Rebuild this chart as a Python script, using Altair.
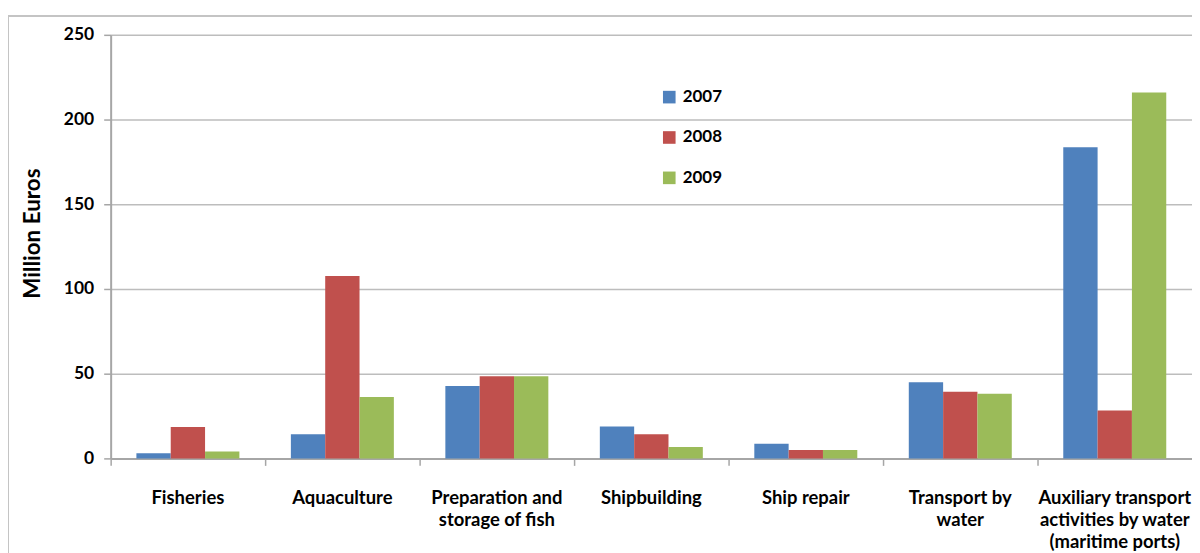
import altair as alt
import pandas as pd

categories = [
    "Fisheries",
    "Aquaculture",
    "Preparation and|storage of fish",
    "Shipbuilding",
    "Ship repair",
    "Transport by|water",
    "Auxiliary transport|activities by water|(maritime ports)",
]
years = ["2007", "2008", "2009"]
v2007 = [3.1, 14.2, 42.8, 18.8, 8.6, 44.9, 183.6]
v2008 = [18.6, 107.6, 48.5, 14.2, 5.0, 39.3, 28.2]
v2009 = [4.0, 36.3, 48.5, 6.7, 5.0, 38.2, 216.0]
colors = ["#4F81BD", "#C0504D", "#9BBB59"]

rows = []
for yr, vals in zip(years, [v2007, v2008, v2009]):
    for c, v in zip(categories, vals):
        rows.append({"sector": c, "year": yr, "value": v})
df = pd.DataFrame(rows)

W, H = 1085, 425
FONT = "Lato"

frame = alt.Chart(pd.DataFrame({"k": [0]})).mark_rect(
    fill="white", fillOpacity=0, stroke="#c4c4c4", strokeWidth=2
).encode(
    x=alt.value(-103), x2=alt.value(W + 50),
    y=alt.value(-19), y2=alt.value(H + 200),
)

bars = alt.Chart(df).mark_bar().encode(
    x=alt.X(
        "sector:N",
        sort=categories,
        scale=alt.Scale(paddingInner=0, paddingOuter=0),
        axis=alt.Axis(
            title=None,
            labelAngle=0,
            labelExpr="split(datum.label, '|')",
            labelFont=FONT,
            labelFontSize=18.5,
            labelFontWeight="bold",
            labelColor="#000000",
            labelLineHeight=22,
            labelBaseline="top",
            labelPadding=23,
            labelLimit=400,
            bandPosition=0,
            ticks=True,
            tickSize=7,
            tickColor="#a6a6a6",
            tickWidth=1.5,
            domainColor="#a6a6a6",
            domainWidth=2,
        ),
    ),
    xOffset=alt.XOffset(
        "year:N",
        sort=years,
        scale=alt.Scale(paddingInner=0, paddingOuter=0.75),
    ),
    y=alt.Y(
        "value:Q",
        scale=alt.Scale(domain=[0, 250], nice=False),
        axis=alt.Axis(
            title="Million Euros",
            values=[0, 50, 100, 150, 200, 250],
            labelFont=FONT,
            labelFontSize=17.5,
            labelFontWeight="bold",
            labelColor="#000000",
            labelPadding=10,
            titleFont=FONT,
            titleFontSize=22.5,
            titleFontWeight="bold",
            titleColor="#000000",
            titlePadding=19,
            titleY=199,
            tickSize=7,
            tickColor="#a6a6a6",
            tickWidth=1.5,
            domainColor="#a6a6a6",
            domainWidth=2,
            grid=True,
            gridColor="#bdbdbd",
            gridWidth=1.5,
        ),
    ),
    color=alt.Color(
        "year:N",
        sort=years,
        scale=alt.Scale(domain=years, range=colors),
        legend=alt.Legend(
            title=None,
            orient="none",
            legendX=552,
            legendY=54,
            symbolType="square",
            symbolSize=160,
            symbolStrokeWidth=0,
            labelFont=FONT,
            labelFontSize=17,
            labelFontWeight="bold",
            labelColor="#000000",
            labelOffset=5,
            rowPadding=22.5,
            padding=0,
        ),
    ),
)

chart = alt.layer(frame, bars).properties(
    width=W,
    height=H,
    autosize=alt.AutoSizeParams(type="none"),
    padding={"left": 103, "top": 26, "right": 0, "bottom": 94},
    background="white",
).configure_view(stroke=None)

chart.save("out.html", embed_options={"renderer": "svg", "actions": False})
